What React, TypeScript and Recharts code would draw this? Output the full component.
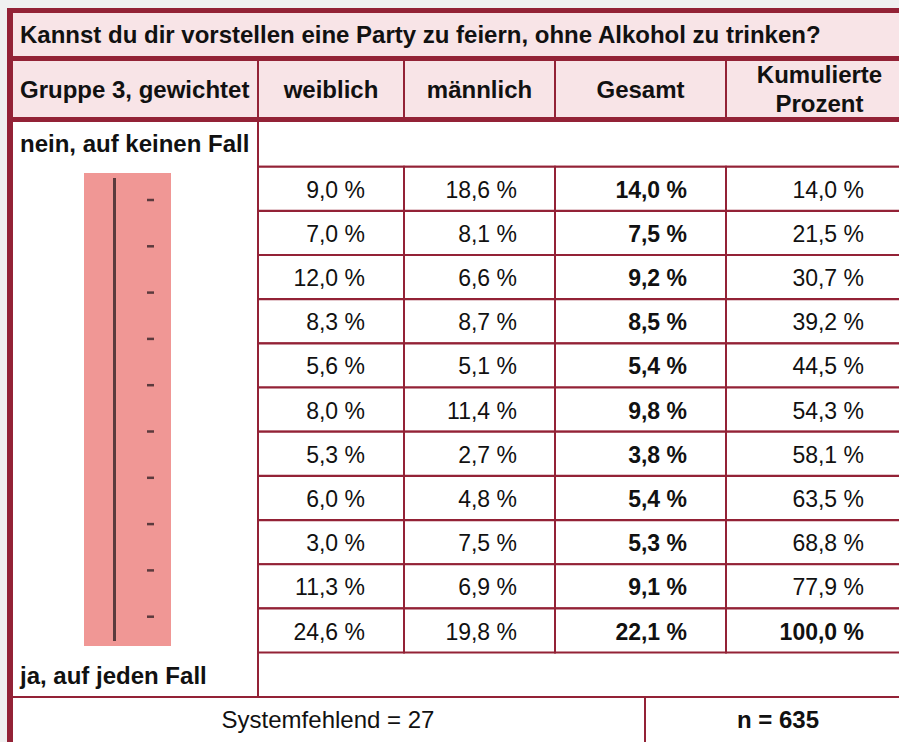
import React from 'react';
import { ComposedChart, Bar, XAxis, YAxis, Customized, Rectangle } from 'recharts';

// 11-point scale, "nein, auf keinen Fall" (1) ... "ja, auf jeden Fall" (11)
const levels = ['1', '2', '3', '4', '5', '6', '7', '8', '9', '10', '11'];
const weiblich = [9.0, 7.0, 12.0, 8.3, 5.6, 8.0, 5.3, 6.0, 3.0, 11.3, 24.6];
const maennlich = [18.6, 8.1, 6.6, 8.7, 5.1, 11.4, 2.7, 4.8, 7.5, 6.9, 19.8];
const gesamt = [14.0, 7.5, 9.2, 8.5, 5.4, 9.8, 3.8, 5.4, 5.3, 9.1, 22.1];
const kumuliert = [14.0, 21.5, 30.7, 39.2, 44.5, 54.3, 58.1, 63.5, 68.8, 77.9, 100.0];

const columns = ['weiblich', 'männlich', 'Gesamt'];
const title = 'Kannst du dir vorstellen eine Party zu feiern, ohne Alkohol zu trinken?';
const groupLabel = 'Gruppe 3, gewichtet';
const topLabel = 'nein, auf keinen Fall';
const bottomLabel = 'ja, auf jeden Fall';
const missing = 27;
const n = 635;

const rows = levels.map((level, i) => ({
  level,
  weiblich: weiblich[i],
  maennlich: maennlich[i],
  gesamt: gesamt[i],
  kumuliert: kumuliert[i],
}));

const W = 913;
const H = 742;
const RED = '#932236';
const PINK = '#f8e4e7';
const FONT = "'Liberation Sans', Arial, sans-serif";
const FS = 23;
const FS_B = 24;

const COL_W = [146, 151, 171, 187];
const TOTAL = COL_W.reduce((a, b) => a + b, 0);
const PAD = [39, 38, 39, 49];
const LEFT = 258;
const TOP = 166.7;
const BOTTOM = 652.7;

const fmt = (v: number) => v.toFixed(1).replace('.', ',') + ' %';

const cell = (col: number, key: string, bold: (i: number) => boolean) => (props: any) => {
  const { x, y, width, height, index, payload } = props;
  return (
    <g>
      <Rectangle x={x} y={y} width={width} height={height} fill="#fff" stroke={RED} strokeWidth={2} />
      <text
        x={x + width - PAD[col]}
        y={y + height / 2 + 9}
        textAnchor="end"
        fontFamily={FONT}
        fontSize={FS}
        fontWeight={bold(index) ? 700 : 400}
        fill="#111"
      >
        {fmt(payload[key])}
      </text>
    </g>
  );
};

const Frame = () => {
  const colX = [LEFT];
  COL_W.forEach((w, i) => colX.push(colX[i] + w));
  const dashes = Array.from({ length: 10 }, (_, k) => 200 + k * 46.3);
  const t = { fontFamily: FONT, fontSize: FS, fill: '#111' };
  const b = { fontFamily: FONT, fontSize: FS_B, fill: '#111', fontWeight: 700 };
  return (
    <g>
      <rect x={13} y={13} width={W} height={43} fill={PINK} />
      <rect x={13} y={61} width={W} height={56} fill={PINK} />
      <line x1={7} x2={W} y1={10.5} y2={10.5} stroke={RED} strokeWidth={5} />
      <line x1={7} x2={W} y1={58.5} y2={58.5} stroke={RED} strokeWidth={5} />
      <line x1={7} x2={W} y1={119.5} y2={119.5} stroke={RED} strokeWidth={5} />
      <line x1={10} x2={10} y1={8} y2={H} stroke={RED} strokeWidth={6} />
      {colX.slice(0, 4).map((cx, i) => (
        <line key={i} x1={cx} x2={cx} y1={61} y2={117} stroke={RED} strokeWidth={2} />
      ))}
      <line x1={LEFT} x2={LEFT} y1={122} y2={697} stroke={RED} strokeWidth={2} />
      <line x1={LEFT} x2={W} y1={TOP} y2={TOP} stroke={RED} strokeWidth={2} />
      <line x1={13} x2={W} y1={697} y2={697} stroke={RED} strokeWidth={2} />
      <line x1={645} x2={645} y1={697} y2={H} stroke={RED} strokeWidth={2} />

      <rect x={84} y={173} width={87} height={473} fill="#f09795" />
      <line x1={114.5} x2={114.5} y1={178} y2={641} stroke="#5b3a3d" strokeWidth={3} />
      {dashes.map((dy, k) => (
        <line key={k} x1={147} x2={154} y1={dy} y2={dy} stroke="#5b3a3d" strokeWidth={2.5} />
      ))}

      <text x={20} y={43} {...b}>{title}</text>
      <text x={20} y={98} {...b}>{groupLabel}</text>
      {columns.map((c, i) => (
        <text key={c} x={(colX[i] + colX[i + 1]) / 2} y={98} textAnchor="middle" {...b}>
          {c}
        </text>
      ))}
      <text x={(colX[3] + colX[4]) / 2} y={83} textAnchor="middle" {...b}>Kumulierte</text>
      <text x={(colX[3] + colX[4]) / 2} y={112} textAnchor="middle" {...b}>Prozent</text>
      <text x={20} y={152} {...b}>{topLabel}</text>
      <text x={20} y={684} {...b}>{bottomLabel}</text>
      <text x={328} y={728} textAnchor="middle" {...t} fontSize={FS_B}>Systemfehlend = {missing}</text>
      <text x={778} y={728} textAnchor="middle" {...b}>n = {n}</text>
    </g>
  );
};

export default function App() {
  const last = levels.length - 1;
  return (
    <div style={{ position: 'fixed', left: 0, top: 0, width: 899, height: 742, overflow: 'hidden', background: '#f0f0f0' }}>
      <div style={{ position: 'absolute', left: 10, top: 10, width: W, height: H, background: '#fff' }} />
      <div style={{ position: 'absolute', left: 0, top: 0 }}>
        <ComposedChart
          width={W}
          height={H}
          data={rows}
          layout="vertical"
          barCategoryGap={0}
          barGap={0}
          margin={{ top: TOP, right: 0, bottom: H - BOTTOM, left: LEFT }}
        >
          <XAxis type="number" domain={[0, TOTAL]} hide />
          <YAxis type="category" dataKey="level" hide />
          <Bar dataKey={() => COL_W[0]} stackId="t" isAnimationActive={false} shape={cell(0, 'weiblich', () => false)} />
          <Bar dataKey={() => COL_W[1]} stackId="t" isAnimationActive={false} shape={cell(1, 'maennlich', () => false)} />
          <Bar dataKey={() => COL_W[2]} stackId="t" isAnimationActive={false} shape={cell(2, 'gesamt', () => true)} />
          <Bar dataKey={() => COL_W[3]} stackId="t" isAnimationActive={false} shape={cell(3, 'kumuliert', (i) => i === last)} />
          <Customized component={Frame} />
        </ComposedChart>
      </div>
    </div>
  );
}
